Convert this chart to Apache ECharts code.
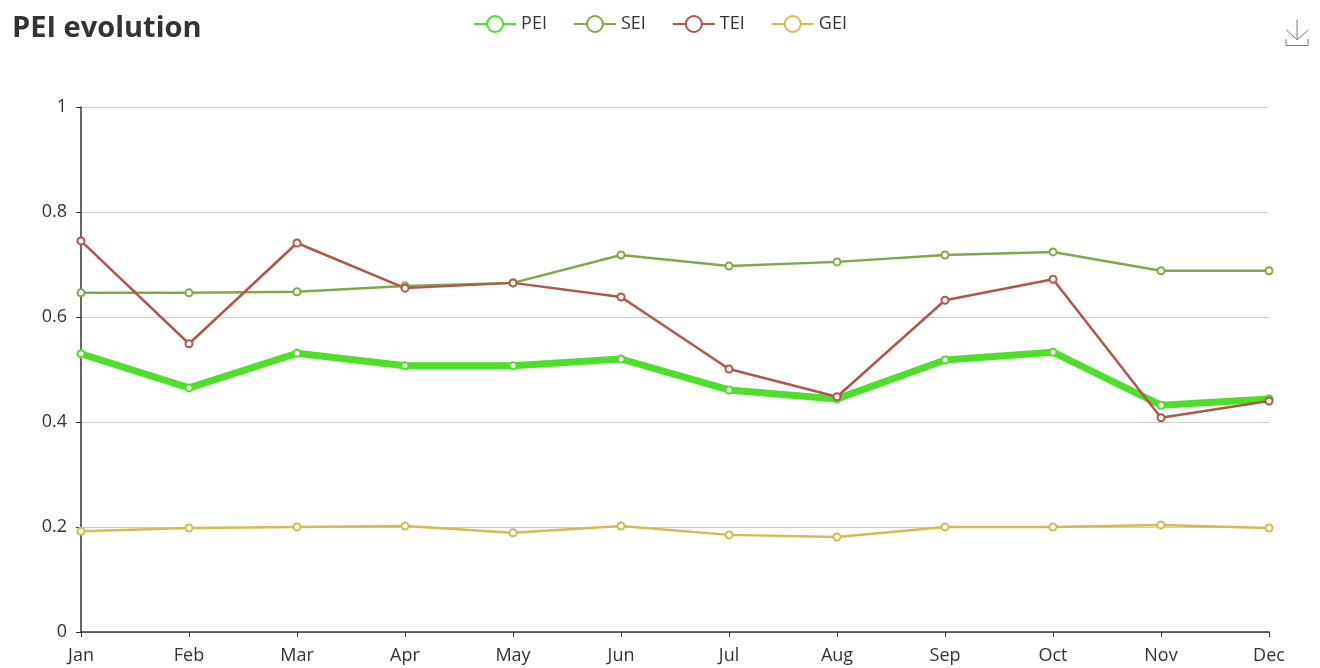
<!DOCTYPE html>
<html><head><meta charset="utf-8">
<script src="https://cdn.jsdelivr.net/npm/echarts@6/dist/echarts.min.js"></script>
<style>html,body{margin:0;padding:0;background:#fff}#c{width:1320px;height:668px}</style>
</head><body><div id="c"></div>
<script>
const months = ['Jan','Feb','Mar','Apr','May','Jun','Jul','Aug','Sep','Oct','Nov','Dec'];
const PEI = [0.530,0.465,0.531,0.507,0.507,0.520,0.461,0.444,0.518,0.533,0.432,0.444];
const SEI = [0.646,0.646,0.648,0.659,0.665,0.718,0.697,0.705,0.718,0.724,0.688,0.688];
const TEI = [0.745,0.549,0.741,0.655,0.665,0.638,0.501,0.448,0.632,0.672,0.408,0.440];
const GEI = [0.192,0.198,0.200,0.202,0.189,0.202,0.185,0.181,0.200,0.200,0.204,0.198];
const yTicks = [0,0.2,0.4,0.6,0.8,1];
const font = "'Open Sans', 'Noto Sans', sans-serif";
const chart = echarts.init(document.getElementById('c'));
function s(name, data, color, width){
  return {name, type:'line', data, symbol:'emptyCircle', symbolSize:7,
    lineStyle:{width, color}, itemStyle:{color, borderWidth:1.5}, z: width>3?1:2};
}
chart.setOption({
  animation:false,
  textStyle:{fontFamily:font},
  title:{text:'PEI evolution', left:7, top:9, textStyle:{fontSize:29, fontWeight:'bold', color:'#333', fontFamily:font}},
  legend:{top:10, left:'center', itemWidth:42, itemHeight:20, itemGap:26,
    textStyle:{fontSize:18, color:'#333', fontFamily:font},
    data:['PEI','SEI','TEI','GEI']},
  toolbox:{right:9, top:17, padding:0, itemSize:26, iconStyle:{borderColor:'#777'}, feature:{saveAsImage:{}}},
  grid:{left:81, right:51, top:107, bottom:36},
  xAxis:{type:'category', data:months, boundaryGap:false,
    axisLine:{lineStyle:{color:'#333', width:1.5}}, axisTick:{lineStyle:{color:'#333'}},
    axisLabel:{fontSize:18, color:'#333', margin:15, fontFamily:font}},
  yAxis:{type:'value', min:0, max:1, interval:0.2,
    axisLine:{show:true, lineStyle:{color:'#333', width:1.5}}, axisTick:{show:true, lineStyle:{color:'#333'}},
    axisLabel:{fontSize:18, color:'#333', margin:14, fontFamily:font, formatter:v=>String(+v.toFixed(1))},
    splitLine:{lineStyle:{color:'#ccc', width:1.2}}},
  series:[
    s('PEI', PEI, '#4ddf2a', 7),
    s('SEI', SEI, '#80a84a', 2.5),
    s('TEI', TEI, '#b4544a', 2.5),
    s('GEI', GEI, '#d4bc4e', 2.5)
  ]
});
</script></body></html>
